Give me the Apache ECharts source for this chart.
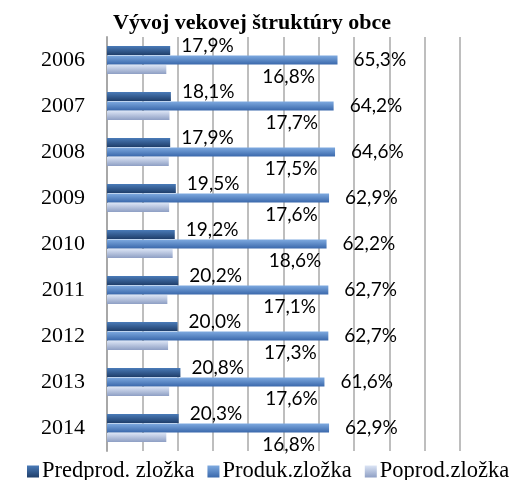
<!DOCTYPE html>
<html>
<head>
<meta charset="utf-8">
<script src="https://cdn.jsdelivr.net/npm/echarts@6/dist/echarts.min.js"></script>
<style>
  html, body { margin: 0; padding: 0; background: #fff; }
  #chart { width: 530px; height: 480px; }
</style>
</head>
<body>
<div id="chart"></div>
<script>
const years = ['2006', '2007', '2008', '2009', '2010', '2011', '2012', '2013', '2014']
const predprod = [17.9, 18.1, 17.9, 19.5, 19.2, 20.2, 20.0, 20.8, 20.3]
const produk = [65.3, 64.2, 64.6, 62.9, 62.2, 62.7, 62.7, 61.6, 62.9]
const poprod = [16.8, 17.7, 17.5, 17.6, 18.6, 17.1, 17.3, 17.6, 16.8]
const seriesNames = ['Predprod. zložka', 'Produk.zložka', 'Poprod.zložka']

const grad = (top, bottom) => new echarts.graphic.LinearGradient(0, 0, 0, 1, [
  { offset: 0, color: top },
  { offset: 1, color: bottom }
])

const fmt = p => p.value.toFixed(1).replace('.', ',') + '%'
const labelFont = { fontFamily: 'Lato', fontSize: 19, color: '#000' }

const chart = echarts.init(document.getElementById('chart'))
chart.setOption({
  animation: false,
  title: {
    text: 'Vývoj vekovej štruktúry obce',
    left: 252,
    textAlign: 'center',
    top: 12,
    padding: 0,
    textStyle: { fontFamily: 'Liberation Serif', fontWeight: 'bold', fontSize: 22, color: '#000' }
  },
  legend: {
    left: 27,
    top: 460,
    padding: 0,
    itemWidth: 12,
    itemHeight: 12,
    itemGap: 13,
    icon: 'rect',
    textStyle: { fontFamily: 'Liberation Serif', fontSize: 22.5, color: '#000', padding: [0, 0, 0, -2] },
    data: seriesNames
  },
  grid: { left: 107, right: 70, top: 37, height: 414 },
  xAxis: {
    type: 'value',
    min: 0,
    max: 100,
    interval: 10,
    axisLabel: { show: false },
    axisLine: { show: false },
    axisTick: { show: false },
    splitLine: { lineStyle: { color: '#a8a8a8', width: 1.5 } }
  },
  yAxis: {
    type: 'category',
    inverse: true,
    data: years,
    axisLine: { lineStyle: { color: '#a8a8a8', width: 2 } },
    axisTick: { show: false },
    axisLabel: { fontFamily: 'Liberation Serif', fontSize: 22, color: '#000', margin: 22 }
  },
  series: [
    {
      name: seriesNames[0],
      type: 'bar',
      data: predprod,
      barWidth: 9,
      barGap: '5%',
      itemStyle: { color: grad('#4a7bb8', '#1f3e6a') },
      label: { show: true, position: 'right', distance: 11, offset: [0, -5], formatter: fmt, ...labelFont }
    },
    {
      name: seriesNames[1],
      type: 'bar',
      data: produk,
      barWidth: 9,
      barGap: '5%',
      itemStyle: { color: grad('#7eaae0', '#3a68ab') },
      label: { show: true, position: 'right', distance: 16, offset: [0, 0], formatter: fmt, ...labelFont }
    },
    {
      name: seriesNames[2],
      type: 'bar',
      data: poprod,
      barWidth: 9,
      barGap: '5%',
      itemStyle: { color: grad('#dbe4f5', '#8e9fc4') },
      label: { show: true, position: 'right', distance: 96, offset: [0, 7], formatter: fmt, ...labelFont }
    }
  ]
})
</script>
</body>
</html>
